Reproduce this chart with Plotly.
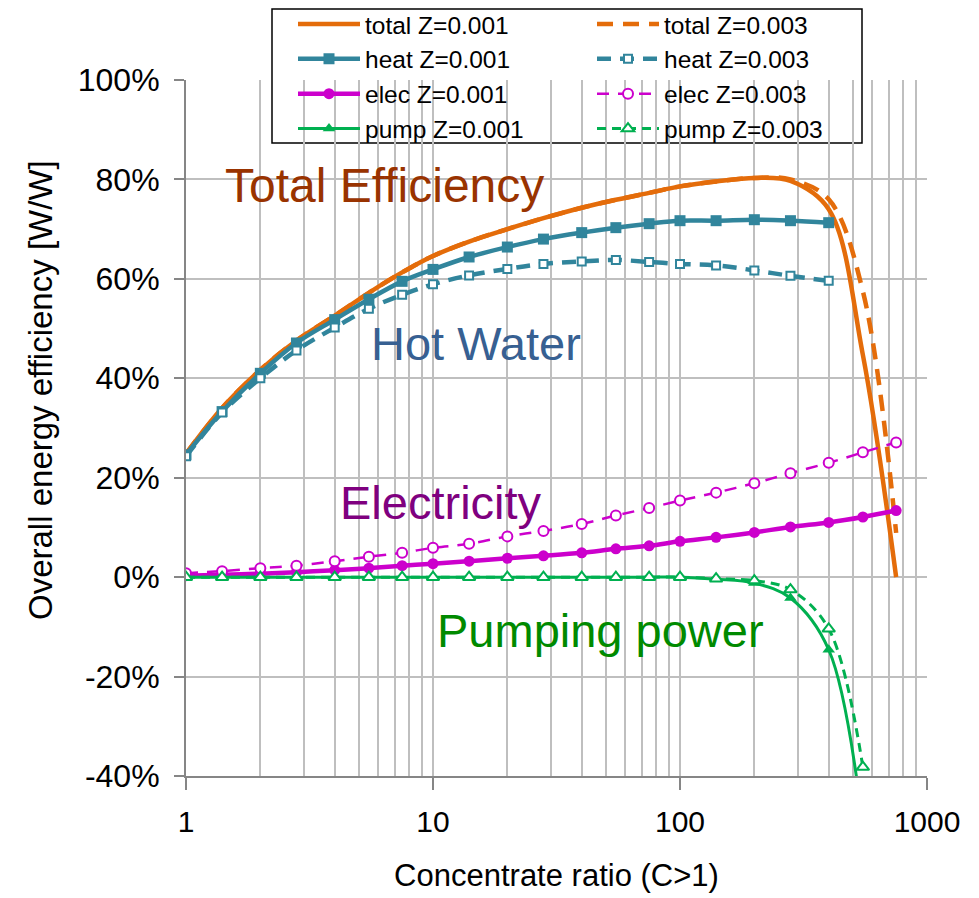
import math
import plotly.graph_objects as go

# ---------------- data ----------------
C = [1, 1.4, 2, 2.8, 4, 5.5, 7.5, 10, 14, 20, 28, 40, 55, 75, 100, 140, 200, 280, 400, 550, 750]

total_z1 = [0.248, 0.340, 0.417, 0.476, 0.526, 0.572, 0.613, 0.646, 0.675, 0.700, 0.722,
            0.743, 0.759, 0.773, 0.786, 0.796, 0.803, 0.797, 0.740, 0.447, 0.0]
total_z3 = [0.248, 0.340, 0.417, 0.476, 0.526, 0.572, 0.613, 0.646, 0.675, 0.700, 0.722,
            0.743, 0.759, 0.773, 0.786, 0.796, 0.803, 0.800, 0.760, 0.575, 0.089]

C_heat = C[:19]
heat_z1 = [0.246, 0.333, 0.410, 0.471, 0.518, 0.559, 0.595, 0.619, 0.644, 0.664, 0.680,
           0.693, 0.703, 0.711, 0.717, 0.717, 0.719, 0.717, 0.713]
heat_z3 = [0.243, 0.331, 0.400, 0.456, 0.502, 0.540, 0.568, 0.589, 0.607, 0.620, 0.630,
           0.635, 0.638, 0.634, 0.630, 0.627, 0.617, 0.606, 0.596]

elec_z1 = [0.003, 0.005, 0.007, 0.010, 0.014, 0.018, 0.023, 0.027, 0.032, 0.038, 0.043,
           0.049, 0.057, 0.063, 0.072, 0.080, 0.090, 0.101, 0.110, 0.121, 0.134]
elec_z3 = [0.008, 0.012, 0.018, 0.023, 0.032, 0.041, 0.049, 0.059, 0.067, 0.082, 0.093,
           0.107, 0.124, 0.139, 0.154, 0.170, 0.189, 0.209, 0.230, 0.251, 0.271]

C_pump = C[:20]
pump_z1 = [0.0, 0.0, 0.0, 0.0, 0.0, 0.0, 0.0, 0.0, 0.0, 0.0, 0.0, 0.0, 0.0, 0.0,
           0.0, -0.004, -0.012, -0.042, -0.146, -0.50]
pump_z3 = [0.0, 0.0, 0.0, 0.0, 0.0, 0.0, 0.0, 0.0, 0.0, 0.0, 0.0, 0.0, 0.0, 0.0,
           0.0, -0.003, -0.007, -0.025, -0.104, -0.382]

y_tickvals = [-0.4, -0.2, 0.0, 0.2, 0.4, 0.6, 0.8, 1.0]
y_ticktext = ["-40%", "-20%", "0%", "20%", "40%", "60%", "80%", "100%"]
x_tickvals = [1, 10, 100, 1000]
x_ticktext = ["1", "10", "100", "1000"]
x_minor = [2, 3, 4, 5, 6, 7, 8, 9, 20, 30, 40, 50, 60, 70, 80, 90,
           200, 300, 400, 500, 600, 700, 800, 900]

labels = [
    ("Total Efficiency", 6.35, 0.788, "#993300", 48),
    ("Hot Water", 14.9, 0.470, "#376092", 47),
    ("Electricity", 10.8, 0.150, "#7F007F", 47),
    ("Pumping power", 47.5, -0.108, "#008A00", 47),
]

x_title = "Concentrate ratio (C>1)"
y_title = "Overall energy efficiency [W/W]"

# ---------------- styling ----------------
ORANGE = "#E46C0A"
TEAL = "#31859C"
MAGENTA = "#CC00CC"
GREEN = "#00B050"
FONT = "Liberation Sans, Arial, sans-serif"
GRID = "#BFBFBF"
AXIS = "#868686"

# figure is placed at an 8px page offset by the html body margin
W, H = 971, 890
ML, MR, MT, MB = 178, 52, 72, 122
PW = W - ML - MR   # 741
PH = H - MT - MB   # 696


def px_x(p):  # figure px -> paper x
    return (p - ML) / PW


def px_y(p):  # figure px -> paper y
    return (MT + PH - p) / PH


fig = go.Figure()

fig.add_trace(go.Scatter(x=C, y=total_z1, name="total Z=0.001", mode="lines",
                         line=dict(color=ORANGE, width=4.5, shape="spline")))
fig.add_trace(go.Scatter(x=C, y=total_z3, name="total Z=0.003", mode="lines",
                         line=dict(color=ORANGE, width=4.5, dash="16px,10px", shape="spline")))
fig.add_trace(go.Scatter(x=C_heat, y=heat_z1, name="heat Z=0.001", mode="lines+markers",
                         line=dict(color=TEAL, width=4.5, shape="spline"),
                         marker=dict(symbol="square", size=11, color=TEAL)))
fig.add_trace(go.Scatter(x=C_heat, y=heat_z3, name="heat Z=0.003", mode="lines+markers",
                         line=dict(color=TEAL, width=4.5, dash="14px,9px", shape="spline"),
                         marker=dict(symbol="square", size=8, color="white",
                                     line=dict(color=TEAL, width=2))))
fig.add_trace(go.Scatter(x=C, y=elec_z1, name="elec Z=0.001", mode="lines+markers",
                         line=dict(color=MAGENTA, width=4.5, shape="spline"),
                         marker=dict(symbol="circle", size=11, color=MAGENTA)))
fig.add_trace(go.Scatter(x=C, y=elec_z3, name="elec Z=0.003", mode="lines+markers",
                         line=dict(color=MAGENTA, width=2.5, dash="12px,9px", shape="spline"),
                         marker=dict(symbol="circle", size=10, color="white",
                                     line=dict(color=MAGENTA, width=2))))
fig.add_trace(go.Scatter(x=C_pump, y=pump_z1, name="pump Z=0.001", mode="lines+markers",
                         line=dict(color=GREEN, width=3, shape="spline"),
                         marker=dict(symbol="triangle-up", size=11, color=GREEN)))
fig.add_trace(go.Scatter(x=C_pump, y=pump_z3, name="pump Z=0.003", mode="lines+markers",
                         line=dict(color=GREEN, width=3, dash="9px,6px", shape="spline"),
                         marker=dict(symbol="triangle-up", size=11, color="white",
                                     line=dict(color=GREEN, width=2))))

for text, xv, yv, col, fs in labels:
    fig.add_annotation(x=math.log10(xv), y=yv, xref="x", yref="y", text=text,
                       showarrow=False, font=dict(family=FONT, size=fs, color=col),
                       xanchor="center", yanchor="middle")

# y-axis title (placed above centre, as in the reference)
fig.add_annotation(x=px_x(32), y=px_y(382), xref="paper", yref="paper", text=y_title,
                   textangle=-90, showarrow=False,
                   font=dict(family=FONT, size=33, color="black"),
                   xanchor="center", yanchor="middle")

# legend box
fig.add_shape(type="rect", xref="paper", yref="paper",
              x0=px_x(264), x1=px_x(854), y0=px_y(135), y1=px_y(1),
              line=dict(color="black", width=1.5), fillcolor="white", layer="below")

LEG_FS = 24.5
row_h = LEG_FS * 1.3 + 3
leg_top = 16 - (5 + row_h / 2)

fig.update_layout(
    width=W, height=H,
    margin=dict(l=ML, r=MR, t=MT, b=MB, autoexpand=False),
    paper_bgcolor="white", plot_bgcolor="white",
    font=dict(family=FONT, color="black"),
    showlegend=True,
    legend=dict(orientation="h", x=px_x(285), xanchor="left",
                y=px_y(leg_top), yanchor="top",
                font=dict(family=FONT, size=LEG_FS, color="black"),
                itemwidth=62, entrywidth=222, entrywidthmode="pixels",
                bgcolor="rgba(0,0,0,0)", borderwidth=0, tracegroupgap=0),
    xaxis=dict(type="log", range=[0, 3],
               tickvals=x_tickvals, ticktext=x_ticktext,
               tickfont=dict(size=30, family=FONT, color="black"),
               ticks="outside", ticklen=12, tickwidth=1.5, tickcolor=AXIS,
               ticklabelstandoff=6,
               showgrid=True, gridcolor=GRID, gridwidth=1.5,
               minor=dict(tickvals=x_minor, showgrid=True, gridcolor=GRID, gridwidth=1.5,
                          ticks=""),
               showline=True, linecolor=AXIS, linewidth=2,
               zeroline=False,
               title=dict(text=x_title, font=dict(size=31, family=FONT),
                          standoff=27)),
    yaxis=dict(range=[-0.4, 1.0],
               tickvals=y_tickvals, ticktext=y_ticktext,
               tickfont=dict(size=32, family=FONT, color="black"),
               ticks="outside", ticklen=10, tickwidth=1.5, tickcolor=AXIS,
               ticklabelstandoff=8,
               showgrid=True, gridcolor=GRID, gridwidth=1.5,
               showline=True, linecolor=AXIS, linewidth=2,
               zeroline=False),
)

fig.write_html("out.html")
